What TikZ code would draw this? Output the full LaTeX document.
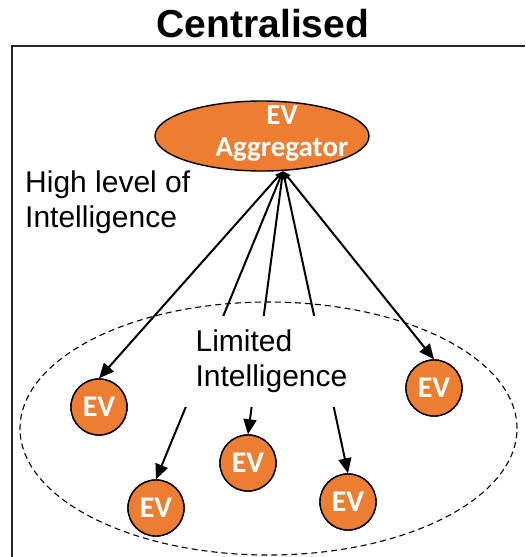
\documentclass[tikz,border=0pt]{standalone}
\usepackage{fontspec}
\setmainfont{Liberation Sans}
\newfontfamily\calib{Carlito}
\usetikzlibrary{arrows.meta,shapes.geometric}
\definecolor{evorange}{HTML}{ED7D31}
\tikzset{
  evnode/.style={circle,draw=black,line width=1.4pt,fill=evorange,minimum size=56pt,inner sep=0pt,
    text=white,font=\calib\bfseries\fontsize{30}{32}\selectfont},
  link/.style={line width=2pt,{Triangle[length=8pt,width=6pt]}-{Triangle[length=15pt,width=13pt]}},
  label/.style={font=\fontsize{30}{35}\selectfont,align=left,inner sep=0pt}
}
\begin{document}
\begin{tikzpicture}[x=1pt,y=-1pt]
\useasboundingbox (0,0) rectangle (525,557);
% frame
\draw[line width=1.6pt,black!85] (12,557) -- (12,46) -- (525,46);
% title
\node[anchor=base,font=\bfseries\fontsize{39}{44}\selectfont,inner sep=0pt] (title) at (263,37) {Centralised};
% aggregator
\node[ellipse,draw=black,line width=1.4pt,fill=evorange,minimum width=214pt,minimum height=70pt,inner sep=0pt] (agg) at (262,136) {};
\node[text=white,align=center,font=\calib\bfseries\fontsize{29}{32}\selectfont,inner sep=0pt] (aggtext) at (282,134) {EV\\Aggregator};
\coordinate (apex) at (283,171);
% high level text
\node[label,anchor=north west] (high) at (25,171) {High level of\\Intelligence};
% EVs
\node[evnode] (ev1) at (99,407) {EV};
\node[evnode] (ev2) at (156,508) {EV};
\node[evnode] (ev3) at (248,463) {EV};
\node[evnode] (ev4) at (348,502) {EV};
\node[evnode] (ev5) at (434,388) {EV};
% links
\draw[link] (apex) -- (ev1.north);
\draw[link] (apex) -- (ev2.north);
\draw[link] (apex) -- (ev3.north);
\draw[link] (apex) -- (ev4.north);
\draw[link] (apex) -- (ev5.north);
% limited intelligence text (covers links)
\node[label,fill=white,inner xsep=14pt,inner ysep=14.5pt] (limited) at (271.5,361.5) {Limited\\Intelligence};
% dashed group
\draw[line width=1.1pt,dash pattern=on 6pt off 4pt] (268.5,428.5) ellipse [x radius=248.5pt,y radius=126.5pt];
% redraw EVs above the dashed ellipse
\node[evnode] at (ev1) {EV};
\node[evnode] at (ev2) {EV};
\node[evnode] at (ev3) {EV};
\node[evnode] at (ev4) {EV};
\node[evnode] at (ev5) {EV};
\end{tikzpicture}
\end{document}
